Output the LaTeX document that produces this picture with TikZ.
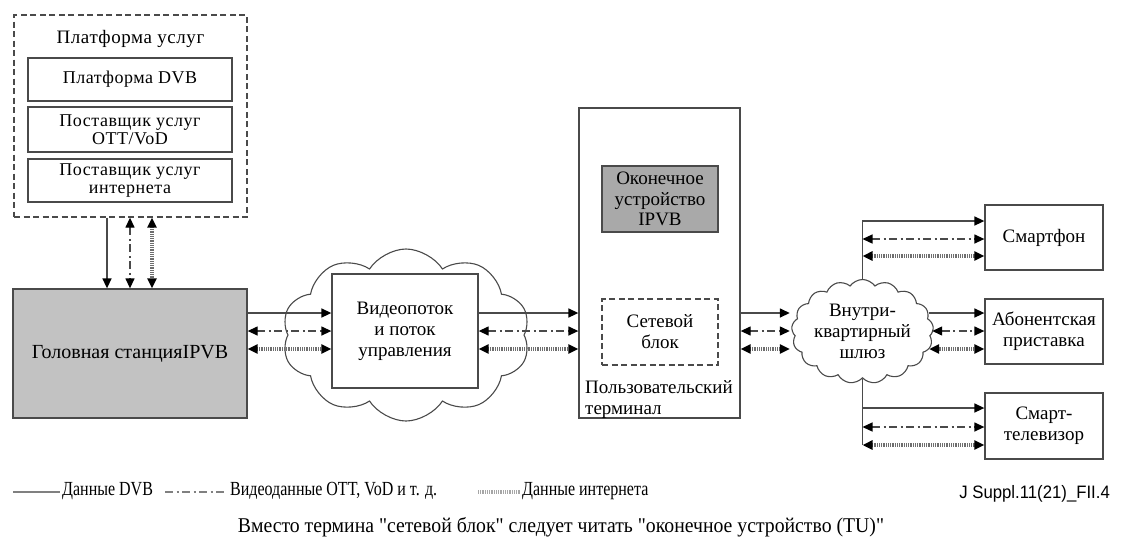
\documentclass[tikz,border=0pt]{standalone}
\usepackage{fontspec}
\setmainfont{Liberation Serif}
\newfontfamily\legendfont[FakeStretch=0.8]{Liberation Serif}
\newfontfamily\notefont[FakeStretch=0.94]{Liberation Serif}
\newfontfamily\spacedfont[LetterSpace=3]{Liberation Serif}
\newfontfamily\tagfont[FakeStretch=0.93]{Liberation Sans}
\usetikzlibrary{arrows.meta,shapes.symbols,calc}

\definecolor{edge}{HTML}{4A4A4A}
\definecolor{headfill}{HTML}{C2C2C2}
\definecolor{tufill}{HTML}{A9A9A9}
\definecolor{netgray}{HTML}{6E6E6E}

\tikzset{ftri/.tip={Triangle[length=10pt,width=9pt,color=black]}}

\begin{document}
\begin{tikzpicture}[x=1pt,y=-1pt,
  txt/.style={font=\fontsize{19}{21}\selectfont},
  span/.style n args={4}{at={({(#1+#3)/2},{(#2+#4)/2})},
    minimum width={(#3)-(#1)},minimum height={(#4)-(#2)}},
  box/.style={draw=edge,line width=1.3pt,inner sep=0pt,align=center,txt},
  dashbox/.style={box,dash pattern=on 6pt off 3.5pt},
  provider/.style={box,font=\spacedfont\fontsize{18}{18}\selectfont},
  puff/.style={cloud,draw=edge,line width=1.1pt,cloud ignores aspect,inner sep=0pt,align=center,txt},
  dvb/.style={draw=edge,line width=1.5pt},
  ott/.style={draw=edge,line width=1.3pt,dash pattern=on 8pt off 3.5pt on 2pt off 3.5pt},
  inet/.style={draw=netgray,line width=3.4pt,dash pattern=on 1pt off 0.8pt},
  fwd/.style={-{ftri}},
  both/.style={{ftri}-{ftri}},
]
\useasboundingbox (0,0) rectangle (1121,542);

% service platform with its three providers
\node[dashbox,span={14}{15}{247}{217}] (platform) {};
\node[font=\spacedfont\fontsize{19}{21}\selectfont] (ptitle) at (130.5,39) {Платформа услуг};
\node[provider,span={28}{58}{232}{101}] (dvbplat) {Платформа DVB};
\node[provider,span={28}{107}{232}{152}] (ottprov) {Поставщик услуг\\OTT/VoD};
\node[provider,span={28}{159}{232}{202}] (ispprov) {Поставщик услуг\\интернета};

% headend
\node[box,fill=headfill,font=\fontsize{20}{22}\selectfont,span={13}{289}{247}{418}] (headend) {Головная станцияIPVB};

% transport network
\node[puff,cloud puffs=10,cloud puff arc=115,minimum width=248,minimum height=172] (net) at (406,335) {};
\node[box,fill=white,span={332}{274}{478}{388}] (stream) {Видеопоток\\и поток\\управления};

% user terminal
\node[box,span={579}{108}{740}{418}] (terminal) {};
\node[box,fill=tufill,font=\fontsize{19}{20.5}\selectfont,span={602}{166}{718}{232}] (tu) {Оконечное\\устройство\\IPVB};
\node[dashbox,span={602}{299}{718}{365}] (netblock) {Сетевой\\блок};
\node[txt,anchor=west,align=left,inner sep=0pt] (tlabel) at (585,400) {Пользовательский\\терминал};

% home gateway and devices
\node[puff,cloud puffs=17,cloud puff arc=110,minimum width=131,minimum height=104] (gw) at (862.5,331.5) {Внутри-\\квартирный\\шлюз};
\node[box,span={985}{205}{1103}{270}] (phone) {Смартфон};
\node[box,span={985}{299}{1103}{364}] (stb) {Абонентская\\приставка};
\node[box,span={985}{393}{1103}{459}] (tv) {Смарт-\\телевизор};

% row positions of the three flows
\coordinate (c1) at (107,0);
\coordinate (c2) at (130,0);
\coordinate (c3) at (152,0);
\coordinate (r1) at (0,313);
\coordinate (r2) at (0,331);
\coordinate (r3) at (0,349);
\coordinate (t1) at (0,221);
\coordinate (t2) at (0,239);
\coordinate (t3) at (0,256);
\coordinate (b1) at (0,408);
\coordinate (b2) at (0,427);
\coordinate (b3) at (0,445);

% platform <-> headend
\draw[dvb,fwd] (platform.south -| c1) -- (headend.north -| c1);
\draw[ott,both] (platform.south -| c2) -- (headend.north -| c2);
\draw[inet,both] (platform.south -| c3) -- (headend.north -| c3);

% headend <-> stream
\draw[dvb,fwd] (headend.east |- r1) -- (stream.west |- r1);
\draw[ott,both] (headend.east |- r2) -- (stream.west |- r2);
\draw[inet,both] (headend.east |- r3) -- (stream.west |- r3);

% stream <-> terminal
\draw[dvb,fwd] (stream.east |- r1) -- (terminal.west |- r1);
\draw[ott,both] (stream.east |- r2) -- (terminal.west |- r2);
\draw[inet,both] (stream.east |- r3) -- (terminal.west |- r3);

% terminal <-> gateway
\draw[dvb,fwd] (terminal.east |- r1) -- ($(gw.west |- r1)+(-2,0)$);
\draw[ott,both] (terminal.east |- r2) -- ($(gw.west |- r2)+(-2,0)$);
\draw[inet,both] (terminal.east |- r3) -- ($(gw.west |- r3)+(-2,0)$);

% gateway <-> set-top box
\draw[dvb,fwd] ($(gw.east |- r1)+(-4,0)$) -- (stb.west |- r1);
\draw[ott,both] ($(gw.east |- r2)+(-1,0)$) -- (stb.west |- r2);
\draw[inet,both] ($(gw.east |- r3)+(-4,0)$) -- (stb.west |- r3);

% gateway <-> smartphone
\draw[dvb,fwd] (gw.north) |- (phone.west |- t1);
\draw[ott,both] (gw.north |- t2) -- (phone.west |- t2);
\draw[inet,both] (gw.north |- t3) -- (phone.west |- t3);

% gateway <-> smart TV
\draw[dvb] (gw.south) -- (gw.south |- b3);
\draw[dvb,fwd] (gw.south |- b1) -- (tv.west |- b1);
\draw[ott,both] (gw.south |- b2) -- (tv.west |- b2);
\draw[inet,both] (gw.south |- b3) -- (tv.west |- b3);

% legend
\coordinate (l1a) at (13,492);  \coordinate (l1b) at (60,492);
\coordinate (l2a) at (165,492); \coordinate (l2b) at (225,492);
\coordinate (l3a) at (478,492); \coordinate (l3b) at (520,492);
\draw[dvb,draw=gray] (l1a) -- (l1b);
\draw[ott,draw=gray] (l2a) -- (l2b);
\draw[inet,draw=gray!70] (l3a) -- (l3b);
\node[anchor=west,inner sep=0pt,font=\legendfont\fontsize{20}{22}\selectfont] (lg1) at (62,491) {Данные DVB};
\node[anchor=west,inner sep=0pt,font=\legendfont\fontsize{20}{22}\selectfont] (lg2) at (230,491) {Видеоданные OTT, VoD и т. д.};
\node[anchor=west,inner sep=0pt,font=\legendfont\fontsize{20}{22}\selectfont] (lg3) at (522,491) {Данные интернета};
\node[anchor=east,inner sep=0pt,font=\tagfont\fontsize{18}{20}\selectfont] (figtag) at (1110,494) {J Suppl.11(21)\_FII.4};

% note
\node[inner sep=0pt,font=\notefont\fontsize{21}{23}\selectfont] (note) at (561,527) {Вместо термина "сетевой блок" следует читать "оконечное устройство (TU)"};
\end{tikzpicture}
\end{document}
